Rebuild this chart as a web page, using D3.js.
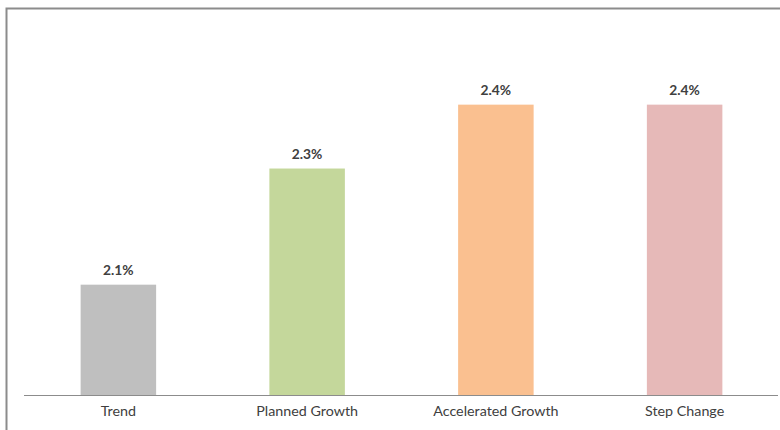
<!DOCTYPE html>
<html>
<head>
<meta charset="utf-8">
<script src="https://cdn.jsdelivr.net/npm/d3@7"></script>
<style>
  body { margin: 0; background: #fff; }
  svg { display: block; font-family: Lato, "Open Sans", sans-serif; }
</style>
</head>
<body>
<div id="chart"></div>
<script>
var categories = ['Trend', 'Planned Growth', 'Accelerated Growth', 'Step Change']
var values = [2.12, 2.32, 2.43, 2.43] // % growth, labels rounded to 1 dp
var colors = ['#bfbfbf', '#c4d79b', '#fac090', '#e6b9b8']

var width = 780, height = 430
var svg = d3.select('#chart').append('svg')
  .attr('width', width).attr('height', height)

// frame (only top and left edges are visible in the crop)
svg.append('path')
  .attr('d', 'M6.5,430 V8.5 H780')
  .attr('fill', 'none').attr('stroke', '#8c8c8c').attr('stroke-width', 2)

var x = d3.scaleBand().domain(categories).range([24, 779]).paddingInner(0.6).paddingOuter(0.3)
var y = d3.scaleLinear().domain([1.93, 2.5]).range([395, 64])

svg.selectAll('rect.bar').data(values).enter().append('rect')
  .attr('class', 'bar')
  .attr('x', (d, i) => x(categories[i]))
  .attr('width', x.bandwidth())
  .attr('y', d => y(d))
  .attr('height', d => y.range()[0] - y(d))
  .attr('fill', (d, i) => colors[i])

svg.selectAll('text.val').data(values).enter().append('text')
  .attr('class', 'val')
  .attr('x', (d, i) => x(categories[i]) + x.bandwidth() / 2)
  .attr('y', d => y(d) - 10)
  .attr('text-anchor', 'middle')
  .attr('font-size', 13.8).attr('font-weight', 'bold')
  .attr('fill', '#404040')
  .text(d => d.toFixed(1) + '%')

// x axis line + labels
var xAxis = d3.axisBottom(x).tickSize(0).tickPadding(11)
var gx = svg.append('g').attr('transform', 'translate(0,' + y.range()[0] + ')').call(xAxis)
gx.select('.domain').attr('stroke', '#8c8c8c').attr('stroke-width', 1)
  .attr('d', 'M24,0.5H778')
gx.selectAll('text').attr('font-size', 14.3).attr('fill', '#404040')
  .attr('font-family', 'Lato, "Open Sans", sans-serif')
</script>
</body>
</html>
